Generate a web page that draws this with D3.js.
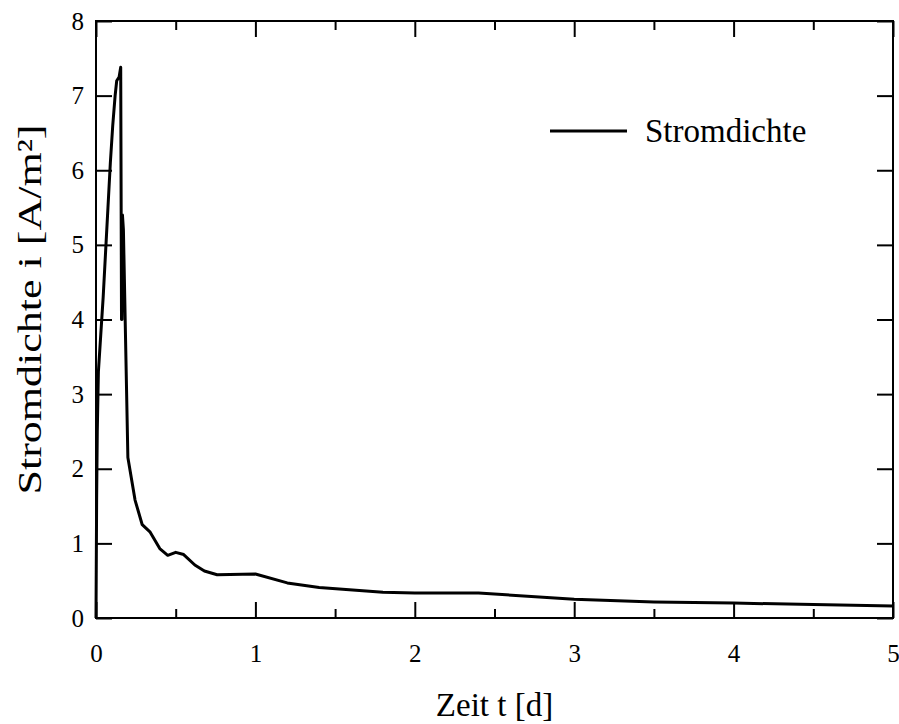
<!DOCTYPE html>
<html>
<head>
<meta charset="utf-8">
<script src="https://cdn.jsdelivr.net/npm/d3@7"></script>
<style>
  body { margin: 0; background: #fff; }
  svg { display: block; }
  text { font-family: "Liberation Serif", "Times New Roman", serif; fill: #000; }
</style>
</head>
<body>
<svg id="chart" width="899" height="724"></svg>
<script>
// time in days
const zeit = [0, 0.004, 0.008, 0.015, 0.03, 0.045, 0.06, 0.075, 0.09, 0.105, 0.12, 0.13, 0.145, 0.155,
  0.16, 0.163, 0.166, 0.172, 0.2, 0.245, 0.29, 0.34, 0.4, 0.45, 0.5, 0.55, 0.62, 0.68, 0.76,
  1.0, 1.2, 1.4, 1.8, 2.0, 2.4, 3.0, 3.5, 4.0, 4.5, 5.0];
// current density in A/m²
const stromdichte = [0, 1.6, 2.5, 3.3, 3.8, 4.3, 4.9, 5.5, 6.1, 6.6, 7.0, 7.2, 7.25, 7.38,
  4.0, 4.0, 5.4, 5.2, 2.15, 1.58, 1.25, 1.15, 0.93, 0.84, 0.88, 0.85, 0.71, 0.63, 0.58,
  0.59, 0.47, 0.41, 0.345, 0.335, 0.335, 0.25, 0.215, 0.2, 0.18, 0.16];

const xTicks = [0, 1, 2, 3, 4, 5];
const xMinor = [0.5, 1.5, 2.5, 3.5, 4.5];
const yTicks = [0, 1, 2, 3, 4, 5, 6, 7, 8];

const svg = d3.select('#chart');
const plotLeft = 96, plotRight = 893, plotTop = 21, plotBottom = 618;
const serif = '"Liberation Serif", "Times New Roman", serif';

const x = d3.scaleLinear().domain([0, 5]).range([plotLeft, plotRight]);
const y = d3.scaleLinear().domain([0, 8]).range([plotBottom, plotTop]);

// frame
svg.append('rect')
    .attr('x', plotLeft).attr('y', plotTop)
    .attr('width', plotRight - plotLeft).attr('height', plotBottom - plotTop)
    .attr('fill', 'none').attr('stroke', '#000').attr('stroke-width', 2);

function styleAxis(g) {
    g.select('.domain').remove();
    g.selectAll('line').attr('stroke', '#000').attr('stroke-width', 2);
    g.selectAll('text')
        .style('font-family', serif)
        .style('font-size', '25px')
        .attr('fill', '#000');
}

// bottom axis with labels
svg.append('g')
    .attr('transform', `translate(0,${plotBottom})`)
    .call(d3.axisBottom(x).tickValues(xTicks).tickSize(-16).tickPadding(26).tickFormat(d3.format('d')))
    .call(styleAxis);
svg.append('g')
    .attr('transform', `translate(0,${plotBottom})`)
    .call(d3.axisBottom(x).tickValues(xMinor).tickSize(-9).tickFormat(''))
    .call(styleAxis);
// top axis
svg.append('g')
    .attr('transform', `translate(0,${plotTop})`)
    .call(d3.axisTop(x).tickValues(xTicks).tickSize(-16).tickFormat(''))
    .call(styleAxis);
svg.append('g')
    .attr('transform', `translate(0,${plotTop})`)
    .call(d3.axisTop(x).tickValues(xMinor).tickSize(-9).tickFormat(''))
    .call(styleAxis);
// left axis
svg.append('g')
    .attr('transform', `translate(${plotLeft},0)`)
    .call(d3.axisLeft(y).tickValues(yTicks).tickSize(-16).tickPadding(12).tickFormat(d3.format('d')))
    .call(styleAxis);
// right axis
svg.append('g')
    .attr('transform', `translate(${plotRight},0)`)
    .call(d3.axisRight(y).tickValues(yTicks).tickSize(-16).tickFormat(''))
    .call(styleAxis);

// data line
const line = d3.line()
    .x((d, i) => x(zeit[i]))
    .y(d => y(d));

svg.append('path')
    .datum(stromdichte)
    .attr('d', line)
    .attr('fill', 'none')
    .attr('stroke', '#000')
    .attr('stroke-width', 3)
    .attr('stroke-linejoin', 'round');

// legend
svg.append('line')
    .attr('x1', 550).attr('x2', 627)
    .attr('y1', 131).attr('y2', 131)
    .attr('stroke', '#000').attr('stroke-width', 3);
svg.append('text')
    .attr('x', 645).attr('y', 142)
    .attr('font-size', 33)
    .text('Stromdichte');

// axis titles
svg.append('text')
    .attr('x', (plotLeft + plotRight) / 2).attr('y', 716)
    .attr('text-anchor', 'middle')
    .attr('font-size', 33)
    .text('Zeit t [d]');

svg.append('text')
    .attr('transform', `translate(41,${(plotTop + plotBottom) / 2 - 10}) rotate(-90)`)
    .attr('text-anchor', 'middle')
    .attr('font-size', 34)
    .attr('textLength', 370)
    .attr('lengthAdjust', 'spacingAndGlyphs')
    .text('Stromdichte i [A/m²]');
</script>
</body>
</html>
